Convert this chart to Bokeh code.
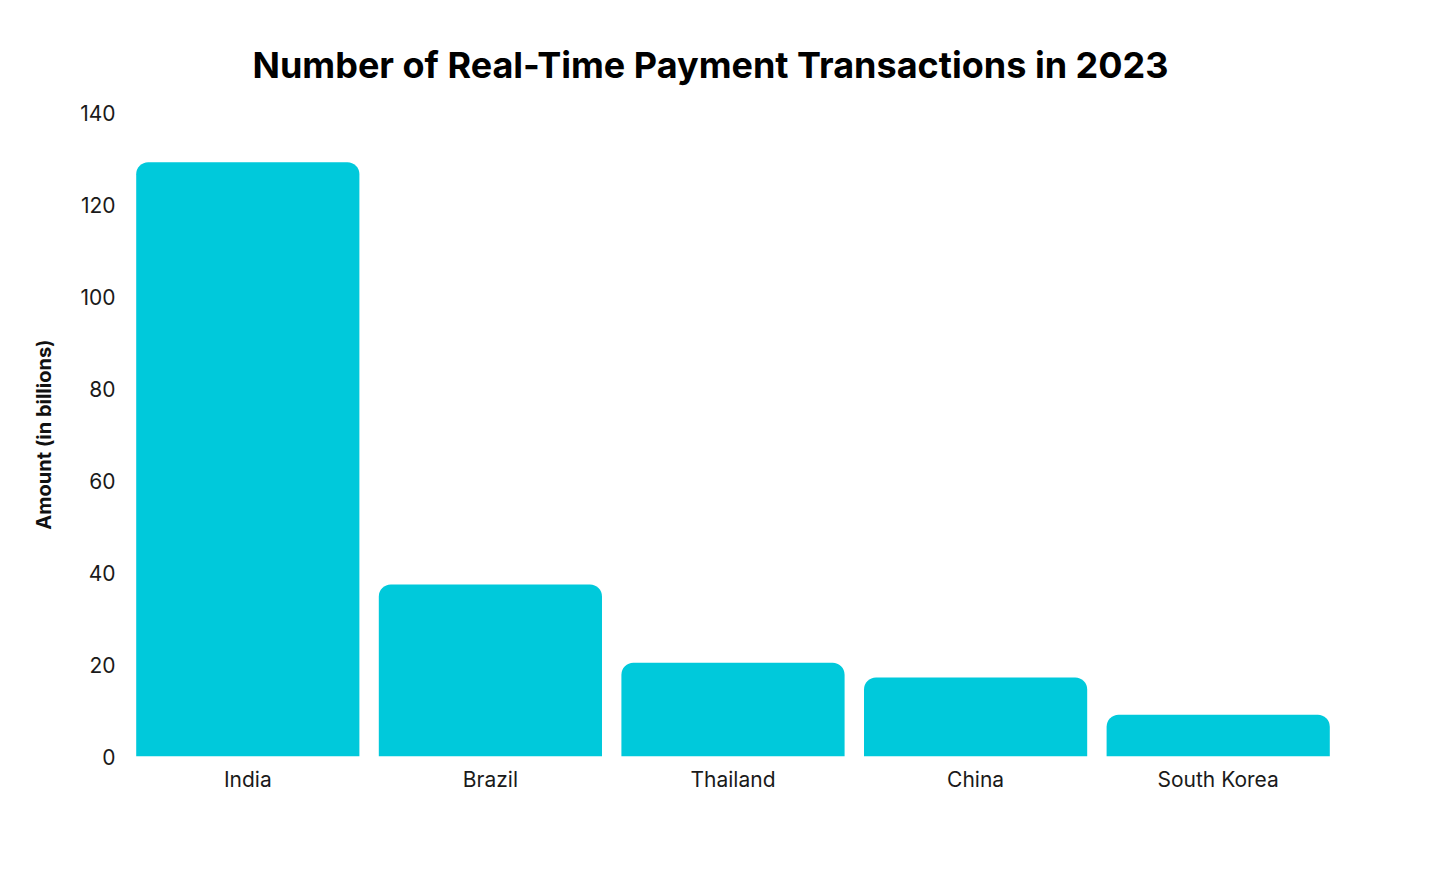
from bokeh.plotting import figure
from bokeh.embed import file_html
from bokeh.resources import INLINE
from bokeh.models import ColumnDataSource, Range1d, FactorRange, Title

countries = ["India", "Brazil", "Thailand", "China", "South Korea"]
amounts = [129.2, 37.4, 20.4, 17.2, 9.1]
y_ticks = [0, 20, 40, 60, 80, 100, 120, 140]

FONT = "Inter"
BAR = "#00C9DB"

src = ColumnDataSource(dict(country=countries, amount=amounts))

p = figure(width=1414, height=864, output_backend="svg", toolbar_location=None,
           x_range=FactorRange(*countries, range_padding=0),
           y_range=Range1d(0, 140),
           min_border_left=126, min_border_right=75, min_border_top=112, min_border_bottom=108)

p.vbar(x="country", top="amount", width=0.92, source=src, fill_color=BAR,
       line_color=None, border_radius=(12, 12, 0, 0))

p.title = Title(text="Number of Real-Time Payment Transactions in 2023", align="left",
                text_font=FONT, text_font_size="36px", text_font_style="bold",
                text_color="#000000", standoff=52, offset=126)

p.yaxis.ticker = y_ticks
p.yaxis.axis_label = "Amount (in billions)"
p.yaxis.axis_label_text_font = FONT
p.yaxis.axis_label_text_font_size = "20px"
p.yaxis.axis_label_text_font_style = "bold"
p.yaxis.axis_label_text_color = "#111111"
p.yaxis.axis_label_standoff = 21

for ax in (p.xaxis, p.yaxis):
    ax.axis_line_color = None
    ax.major_tick_line_color = None
    ax.minor_tick_line_color = None
    ax.major_label_text_font = FONT
    ax.major_label_text_font_size = "21px"
    ax.major_label_text_color = "#1a1a1a"
p.yaxis.major_label_standoff = 5
p.xaxis.major_label_standoff = 4

p.xgrid.grid_line_color = None
p.ygrid.grid_line_color = None
p.outline_line_color = None
p.background_fill_color = "white"
p.border_fill_color = "white"

open("out.html", "w").write(file_html(p, INLINE))
